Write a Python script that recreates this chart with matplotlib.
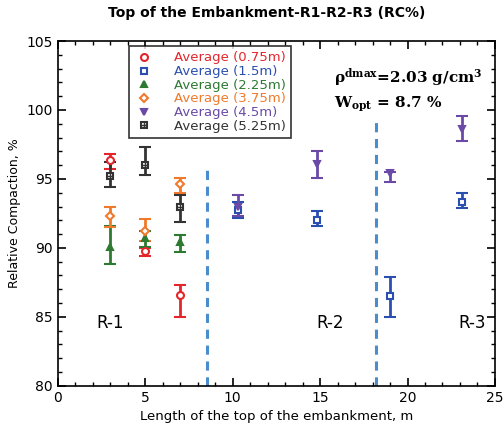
import numpy as np
import matplotlib
matplotlib.use("Agg")
import matplotlib.pyplot as plt
from matplotlib.ticker import MultipleLocator
from matplotlib.lines import Line2D
from matplotlib.legend_handler import HandlerTuple

plt.rcParams["mathtext.fontset"] = "dejavuserif"

# series: x, mean, lower, upper
x_075 = [3, 5, 7]
m_075 = [96.4, 89.8, 86.6]
lo_075 = [95.7, 89.4, 85.0]
hi_075 = [96.8, 90.0, 87.3]

x_15 = [10.3, 14.8, 19.0, 23.1]
m_15 = [92.75, 92.0, 86.5, 93.3]
lo_15 = [92.2, 91.6, 85.0, 92.9]
hi_15 = [93.3, 92.7, 87.9, 94.0]

x_225 = [3, 5, 7]
m_225 = [90.1, 90.7, 90.4]
lo_225 = [88.8, 90.1, 89.7]
hi_225 = [91.6, 91.2, 90.9]

x_375 = [3, 5, 7]
m_375 = [92.3, 91.2, 94.6]
lo_375 = [91.5, 90.5, 94.0]
hi_375 = [93.0, 92.1, 95.1]

x_45 = [10.3, 14.8, 19.0, 23.1]
m_45 = [93.0, 96.1, 95.4, 98.6]
lo_45 = [92.3, 95.1, 94.75, 97.75]
hi_45 = [93.8, 97.0, 95.5, 99.6]

x_525 = [3, 5, 7]
m_525 = [95.2, 96.0, 93.0]
lo_525 = [94.4, 95.3, 91.9]
hi_525 = [96.2, 97.3, 93.8]

labels = ["Average (0.75m)", "Average (1.5m)", "Average (2.25m)",
          "Average (3.75m)", "Average (4.5m)", "Average (5.25m)"]
colors = ["#e3262c", "#2b4fae", "#2e7a32", "#f07a2c", "#6a4aa6", "#333333"]
markers = ["o", "s", "^", "D", "v", "s"]
filled = [False, False, True, False, True, False]
sizes = [5, 5, 5, 4.5, 5, 5]

fig = plt.figure(figsize=(5.04, 4.32), dpi=100)
ax = fig.add_axes([0.115, 0.107, 0.867, 0.798])

series = [(x_075, m_075, lo_075, hi_075), (x_15, m_15, lo_15, hi_15),
          (x_225, m_225, lo_225, hi_225), (x_375, m_375, lo_375, hi_375),
          (x_45, m_45, lo_45, hi_45), (x_525, m_525, lo_525, hi_525)]

handles = []
for (x, m, lo, hi), c, mk, f, sz in zip(series, colors, markers, filled, sizes):
    m = np.array(m)
    yerr = [m - np.array(lo), np.array(hi) - m]
    ax.errorbar(x, m, yerr=yerr, fmt=mk, color=c, ecolor=c,
                mfc=c if f else "white", mec=c, mew=1.5, ms=sz,
                capsize=4, elinewidth=2, capthick=1.5, zorder=3)
    handles.append(Line2D([], [], ls="none", marker=mk, color=c,
                          mfc=c if f else "white", mec=c, mew=1.5, ms=sz))

ax.plot(x_525, m_525, "+", color=colors[5], ms=5, mew=1, zorder=4)
handles[5] = (handles[5], Line2D([], [], ls="none", marker="+",
                                 color=colors[5], ms=5, mew=1))

ax.plot([8.5, 8.5], [80, 95.7], "--", color="#4a8ccc", lw=2.2, dashes=(3, 2.2))
ax.plot([18.2, 18.2], [80, 99.4], "--", color="#4a8ccc", lw=2.2, dashes=(3, 2.2))

ax.text(2.2, 84.2, "R-1", fontsize=12)
ax.text(14.8, 84.2, "R-2", fontsize=12)
ax.text(22.9, 84.2, "R-3", fontsize=12)
ax.text(15.8, 102.0, r"$\mathbf{\rho^{dmax}}$=2.03 g/cm$^\mathbf{3}$",
        fontsize=11, family="DejaVu Serif", fontweight="bold")
ax.text(15.8, 100.2, r"$\mathbf{W_{opt}}$ = 8.7 %",
        fontsize=11, family="DejaVu Serif", fontweight="bold")

leg = ax.legend(handles, labels,
                handler_map={tuple: HandlerTuple(ndivide=1, pad=0)},
                loc="upper left", bbox_to_anchor=(0.163, 0.985),
                fontsize=9.5, frameon=True, fancybox=False, edgecolor="black",
                handlelength=1.5, handletextpad=1.5, labelspacing=0.05,
                borderpad=0.4, borderaxespad=0)
leg.get_frame().set_linewidth(1.2)
for t, c in zip(leg.get_texts(), colors):
    t.set_color(c)

ax.set_xlim(0, 25)
ax.set_ylim(80, 105)
ax.xaxis.set_major_locator(MultipleLocator(5))
ax.xaxis.set_minor_locator(MultipleLocator(1))
ax.yaxis.set_major_locator(MultipleLocator(5))
ax.yaxis.set_minor_locator(MultipleLocator(1))
ax.tick_params(which="both", direction="in", top=True, right=True, labelsize=10)
ax.tick_params(which="major", length=6, width=1.2)
ax.tick_params(which="minor", length=3, width=1)
for s in ax.spines.values():
    s.set_linewidth(1.2)

ax.set_xlabel("Length of the top of the embankment, m", fontsize=9.5)
ax.set_ylabel("Relative Compaction, %", fontsize=9)
fig.suptitle("Top of the Embankment-R1-R2-R3 (RC%)", fontsize=10,
             fontweight="bold", x=0.53, y=0.985)

fig.savefig("out.png", dpi=100)
